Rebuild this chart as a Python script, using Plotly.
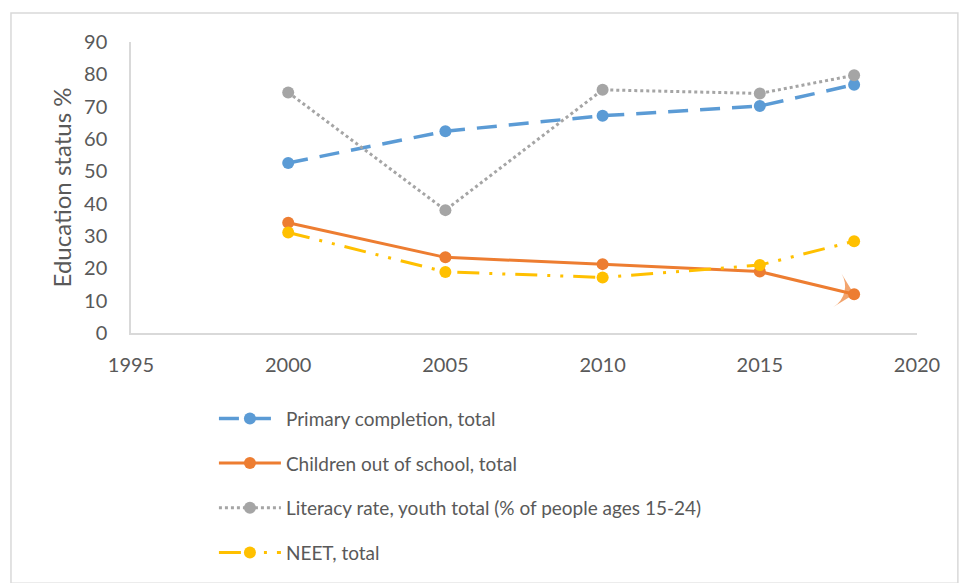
import plotly.graph_objects as go

years = [2000, 2005, 2010, 2015, 2018]
primary_completion = [52.6, 62.4, 67.2, 70.2, 76.8]
children_out_of_school = [34.1, 23.4, 21.3, 19.0, 12.0]
literacy_rate = [74.4, 38.0, 75.2, 74.1, 79.7]
neet = [31.1, 18.9, 17.2, 21.0, 28.4]

x_ticks = [1995, 2000, 2005, 2010, 2015, 2020]
y_ticks = [0, 10, 20, 30, 40, 50, 60, 70, 80, 90]

names = [
    "Primary completion, total",
    "Children out of school, total",
    "Literacy rate, youth total (% of people ages 15-24)",
    "NEET, total",
]

FONT = "Lato, Carlito, 'Open Sans', sans-serif"
TXT = "#595959"

fig = go.Figure()

fig.add_trace(go.Scatter(
    x=years, y=primary_completion, name=names[0], mode="lines+markers",
    line=dict(color="#5B9BD5", width=3.5, dash="20px,12px"),
    marker=dict(color="#5B9BD5", size=12, symbol="circle"),
    legendgroup="a",
))
# arrow head at the end of the orange line (drawn under the circle marker)
fig.add_trace(go.Scatter(
    x=years[-2:], y=children_out_of_school[-2:], mode="markers",
    marker=dict(color="#ED7D31", size=[0, 24], symbol=["circle", "arrow-wide"],
                angleref="previous", line=dict(width=0)),
    showlegend=False, hoverinfo="skip", legendgroup="b",
))
fig.add_trace(go.Scatter(
    x=years, y=children_out_of_school, name=names[1], mode="lines+markers",
    line=dict(color="#ED7D31", width=3),
    marker=dict(color="#ED7D31", size=12, symbol="circle"),
    legendgroup="b",
))
fig.add_trace(go.Scatter(
    x=years, y=literacy_rate, name=names[2], mode="lines+markers",
    line=dict(color="#A5A5A5", width=3, dash="dot"),
    marker=dict(color="#A5A5A5", size=12, symbol="circle"),
    legendgroup="c",
))
fig.add_trace(go.Scatter(
    x=years, y=neet, name=names[3], mode="lines+markers",
    line=dict(color="#FFC000", width=3, dash="22px,10px,3px,10px,3px,10px"),
    marker=dict(color="#FFC000", size=12, symbol="circle"),
    legendgroup="d",
))

fig.update_layout(
    width=960, height=583,
    margin=dict(l=131, r=43, t=42, b=250),
    paper_bgcolor="white", plot_bgcolor="white",
    font=dict(family=FONT, size=19, color=TXT),
    showlegend=True,
    legend=dict(
        x=0.1055, y=-0.2287, xanchor="left", yanchor="top",
        orientation="v", itemwidth=62, tracegroupgap=17,
        font=dict(family=FONT, size=19, color=TXT),
        bgcolor="rgba(0,0,0,0)",
    ),
    xaxis=dict(
        range=[1995, 2020], tickvals=x_ticks, ticktext=[str(v) for v in x_ticks],
        showgrid=False, zeroline=False, showline=True, linecolor="#D9D9D9", linewidth=1.5,
        ticks="", ticklabelstandoff=13,
        tickfont=dict(family=FONT, size=20, color=TXT),
    ),
    yaxis=dict(
        range=[0, 90], tickvals=y_ticks,
        showgrid=False, zeroline=False, showline=True, linecolor="#D9D9D9", linewidth=1.5,
        ticks="", ticklabelstandoff=18,
        tickfont=dict(family=FONT, size=20, color=TXT),
        title=dict(text="Education status %", font=dict(family=FONT, size=24, color=TXT), standoff=6),
    ),
    shapes=[dict(
        type="rect", xref="paper", yref="paper",
        x0=-0.1527, x1=1.052, y0=-0.86, y1=1.0997,
        line=dict(color="#D9D9D9", width=1.5), fillcolor="rgba(0,0,0,0)", layer="below",
    )],
)

fig.write_html("out.html", config={"displayModeBar": False},
               post_script="document.body.style.margin='0';")
